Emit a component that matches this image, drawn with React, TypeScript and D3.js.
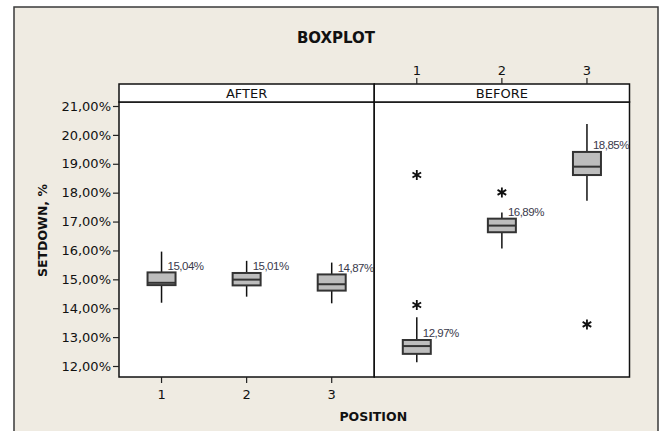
import * as d3 from 'd3';
import { useEffect, useRef } from 'react';

const panels = ['AFTER', 'BEFORE'];
const positions = ['1', '2', '3'];
const yTicks = [12, 13, 14, 15, 16, 17, 18, 19, 20, 21];

// box stats per position (percent)
const afterWhiskerHi = [15.96, 15.64, 15.58];
const afterQ3 = [15.24, 15.22, 15.17];
const afterMedian = [14.88, 14.99, 14.83];
const afterQ1 = [14.8, 14.79, 14.61];
const afterWhiskerLo = [14.19, 14.4, 14.17];
const afterMean = [15.04, 15.01, 14.87];
const afterOutliers: number[][] = [[], [], []];

const beforeWhiskerHi = [13.69, 17.31, 20.38];
const beforeQ3 = [12.9, 17.1, 19.41];
const beforeMedian = [12.69, 16.86, 18.9];
const beforeQ1 = [12.42, 16.63, 18.61];
const beforeWhiskerLo = [12.13, 16.07, 17.72];
const beforeMean = [12.97, 16.89, 18.85];
const beforeOutliers = [[18.61, 14.11], [18.01], [13.44]];

const fmt = (v: number) => v.toFixed(2).replace('.', ',') + '%';

const App = () => {
  const svgRef = useRef<SVGSVGElement>(null);
  const width = 663, height = 431;
  const plotL = 119, plotR = 629.5, plotT = 102, plotB = 377, stripT = 84;
  const font = '"DejaVu Sans", Verdana, sans-serif';

  useEffect(() => {
    const svg = d3.select(svgRef.current);
    svg.selectAll('*').remove();

    svg.append('rect').attr('width', width).attr('height', height).attr('fill', '#fff');
    svg.append('rect').attr('x', 14).attr('y', 7).attr('width', 644).attr('height', 440)
      .attr('fill', '#efebe2').attr('stroke', '#3a3a3a').attr('stroke-width', 1.5);

    // y scale: 21% sits 4px under the panel top, 12% 11px above the bottom
    const pxPer = (366 - 106) / 9;
    const y = d3.scaleLinear()
      .domain([12 - (plotB - 366) / pxPer, 21 + (106 - plotT) / pxPer])
      .range([plotB, plotT]);

    const panelX = d3.scaleBand().domain(panels).range([plotL, plotR]);

    const data = [
      { hi: afterWhiskerHi, q3: afterQ3, med: afterMedian, q1: afterQ1, lo: afterWhiskerLo, mean: afterMean, out: afterOutliers },
      { hi: beforeWhiskerHi, q3: beforeQ3, med: beforeMedian, q1: beforeQ1, lo: beforeWhiskerLo, mean: beforeMean, out: beforeOutliers },
    ];

    panels.forEach((p, pi) => {
      const x0 = panelX(p)!;
      const bw = panelX.bandwidth();
      const x = d3.scaleBand().domain(positions).range([x0, x0 + bw]);

      // panel
      svg.append('rect').attr('x', x0).attr('y', plotT).attr('width', bw).attr('height', plotB - plotT)
        .attr('fill', '#fff').attr('stroke', '#111').attr('stroke-width', 1.5);
      // strip
      svg.append('rect').attr('x', x0).attr('y', stripT).attr('width', bw).attr('height', plotT - stripT)
        .attr('fill', '#fff').attr('stroke', '#111').attr('stroke-width', 1.5);
      svg.append('text').attr('x', x0 + bw / 2).attr('y', (stripT + plotT) / 2).attr('dy', '0.36em')
        .attr('text-anchor', 'middle').attr('font-family', font).attr('font-size', 13).attr('fill', '#111')
        .text(p);

      // axis: bottom for the first panel, top for the second
      const ax = pi === 0 ? d3.axisBottom(x).tickSize(6).tickPadding(7) : d3.axisTop(x).tickSize(6).tickPadding(3);
      const g = svg.append('g').attr('transform', `translate(0,${pi === 0 ? plotB : stripT})`).call(ax);
      g.select('.domain').remove();
      g.selectAll('line').attr('stroke', '#222').attr('stroke-width', 1.2);
      g.selectAll('text').attr('font-family', font).attr('font-size', 13).attr('fill', '#111');

      const d = data[pi];
      const boxW = 28;
      positions.forEach((pos, i) => {
        const cx = x(pos)! + x.bandwidth() / 2;
        const b = svg.append('g');
        b.append('line').attr('x1', cx).attr('x2', cx).attr('y1', y(d.hi[i])).attr('y2', y(d.q3[i]))
          .attr('stroke', '#111').attr('stroke-width', 1.5);
        b.append('line').attr('x1', cx).attr('x2', cx).attr('y1', y(d.q1[i])).attr('y2', y(d.lo[i]))
          .attr('stroke', '#111').attr('stroke-width', 1.5);
        b.append('rect').attr('x', cx - boxW / 2).attr('y', y(d.q3[i]))
          .attr('width', boxW).attr('height', y(d.q1[i]) - y(d.q3[i]))
          .attr('fill', '#bdbdbd').attr('stroke', '#333').attr('stroke-width', 2);
        b.append('line').attr('x1', cx - boxW / 2).attr('x2', cx + boxW / 2)
          .attr('y1', y(d.med[i])).attr('y2', y(d.med[i])).attr('stroke', '#333').attr('stroke-width', 2);

        d.out[i].forEach(v => {
          b.append('path').attr('d', d3.symbol(d3.symbolAsterisk, 70)()!)
            .attr('transform', `translate(${cx},${y(v)})`)
            .attr('fill', 'none').attr('stroke', '#111').attr('stroke-width', 1.8);
        });

        b.append('text').attr('x', cx + 6).attr('y', y(d.q3[i]) - 7).attr('dy', '0.36em')
          .attr('font-family', '"Liberation Sans", Arial, sans-serif').attr('font-size', 11.5)
          .attr('letter-spacing', -0.5).attr('fill', '#3a3a4c').text(fmt(d.mean[i]));
      });
    });

    // y axis
    const gy = svg.append('g').attr('transform', `translate(${plotL},0)`)
      .call(d3.axisLeft(y).tickValues(yTicks).tickSize(6).tickPadding(2).tickFormat(v => fmt(+v)));
    gy.select('.domain').remove();
    gy.selectAll('line').attr('stroke', '#222').attr('stroke-width', 1.2);
    gy.selectAll('text').attr('font-family', font).attr('font-size', 13).attr('fill', '#111');

    svg.append('text').attr('x', 336).attr('y', 38).attr('dy', '0.36em').attr('text-anchor', 'middle')
      .attr('font-family', font).attr('font-weight', 'bold').attr('font-size', 15).attr('fill', '#111')
      .text('BOXPLOT');
    svg.append('text').attr('x', (plotL + plotR) / 2 - 1).attr('y', 416).attr('dy', '0.36em')
      .attr('text-anchor', 'middle').attr('font-family', font).attr('font-weight', 'bold')
      .attr('font-size', 12.5).attr('fill', '#111').text('POSITION');
    svg.append('text').attr('transform', `translate(42,${(stripT + plotB) / 2}) rotate(-90)`).attr('dy', '0.36em')
      .attr('text-anchor', 'middle').attr('font-family', font).attr('font-weight', 'bold')
      .attr('font-size', 12.5).attr('fill', '#111').text('SETDOWN, %');
  }, []);

  return <svg ref={svgRef} width={width} height={height} style={{ position: 'absolute', left: 0, top: 0 }}></svg>;
};

export default App;
